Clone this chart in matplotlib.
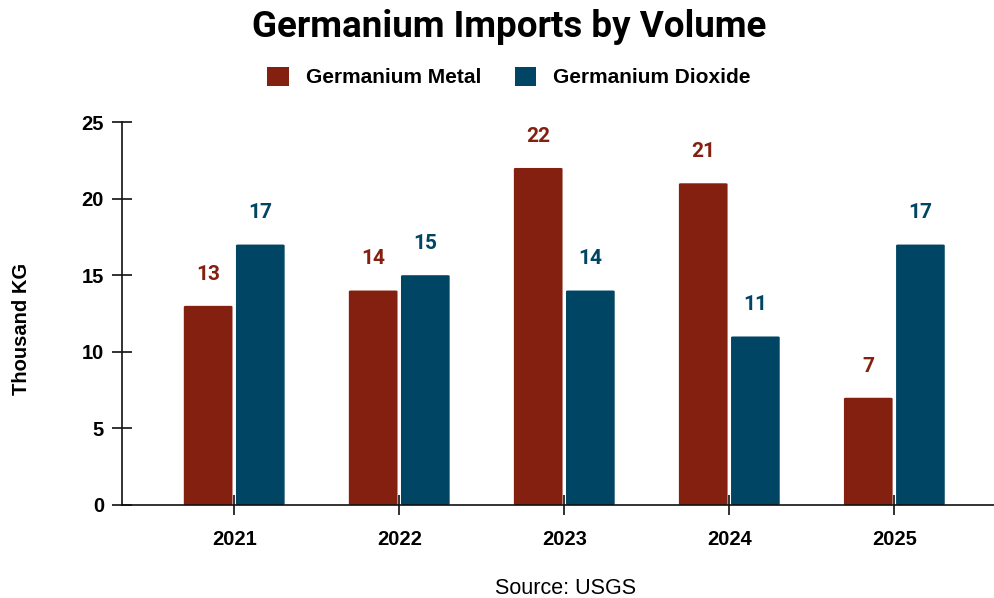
import matplotlib
matplotlib.use("Agg")
import matplotlib.pyplot as plt
import numpy as np
from matplotlib.patches import FancyBboxPatch, Patch

years = ["2021", "2022", "2023", "2024", "2025"]
metal = [13, 14, 22, 21, 7]
dioxide = [17, 15, 14, 11, 17]
series_names = ["Germanium Metal", "Germanium Dioxide"]
colors = ["#84200F", "#004563"]

fig = plt.figure(figsize=(9.95, 5.98), dpi=100)
ax = fig.add_axes([122/995, 93/598, (995-122)/995, 383/598])

x = np.arange(len(years))
w = 0.295
off = 0.158
for vals, sign, c in [(metal, -1, colors[0]), (dioxide, 1, colors[1])]:
    bars = ax.bar(x + sign*off, vals, width=w, color=c, alpha=0)
    for b, v in zip(bars, vals):
        bx, by = b.get_x(), b.get_y()
        bw, bh = b.get_width(), b.get_height()
        p = FancyBboxPatch((bx, by), bw, bh,
                           boxstyle="round,pad=0,rounding_size=0.012",
                           mutation_aspect=25/5.3,
                           facecolor=c, edgecolor="none")
        ax.add_patch(p)
        ax.annotate(str(v), (bx + bw/2, bh), xytext=(0, 16), textcoords="offset points",
                    ha="center", va="bottom", color=c, fontsize=15,
                    fontweight="bold", family="Roboto")

ax.set_xlim(-0.68, 4.61)
ax.set_ylim(0, 25)
ax.set_yticks([0, 5, 10, 15, 20, 25])
ax.set_xticks(x)
ax.set_xticklabels(years)
for lab in ax.get_xticklabels() + ax.get_yticklabels():
    lab.set_family("Liberation Sans")
    lab.set_fontweight("bold")
    lab.set_fontsize(14.5)
ax.tick_params(axis="both", direction="inout", length=14, width=1.2, color="#111111")
ax.tick_params(axis="y", pad=6)
ax.tick_params(axis="x", pad=11)
for s in ["top", "right"]:
    ax.spines[s].set_visible(False)
for s in ["left", "bottom"]:
    ax.spines[s].set_linewidth(1.2)
    ax.spines[s].set_color("#111111")

fig.text(22/995, 1 - 329/598, "Thousand KG", rotation=90, ha="center", va="center",
         fontsize=14.5, fontweight="bold", family="Liberation Sans")
fig.text(509/995, 1 - 27/598, "Germanium Imports by Volume", ha="center", va="center",
         fontsize=26.5, fontweight="bold", family="Roboto")
fig.text(566/995, 1 - 588/598, "Source: USGS", ha="center", va="center",
         fontsize=15.5, family="Liberation Sans")

handles = [Patch(facecolor=colors[0], edgecolor="none"), Patch(facecolor=colors[1], edgecolor="none")]
leg = fig.legend(handles, series_names, loc="center", bbox_to_anchor=(509/995, 1 - 77/598),
                 ncol=2, frameon=False, handlelength=1.05, handleheight=1.05, handletextpad=0.8,
                 columnspacing=1.6, prop={"family": "Liberation Sans", "weight": "bold", "size": 15})

fig.savefig("out.png", dpi=100)
